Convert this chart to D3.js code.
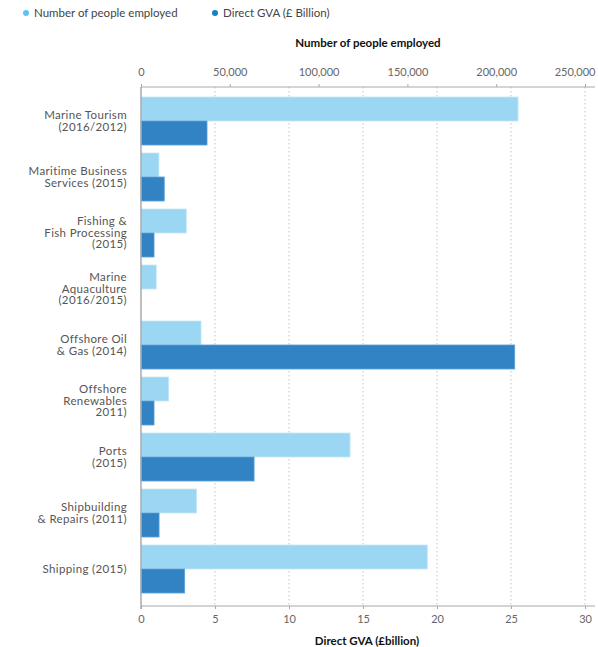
<!DOCTYPE html>
<html>
<head>
<meta charset="utf-8">
<script src="https://cdn.jsdelivr.net/npm/d3@7"></script>
<style>
	body { margin: 0; background: #fff; }
	text { font-family: Lato, "Open Sans", sans-serif; }
</style>
</head>
<body>
<div id="chart"></div>
<script>
//////////////////////////// data /////////////////////////////////////////

const sectors = [
	"Marine Tourism (2016/2012)",
	"Maritime Business Services (2015)",
	"Fishing & Fish Processing (2015)",
	"Marine Aquaculture (2016/2015)",
	"Offshore Oil & Gas (2014)",
	"Offshore Renewables 2011)",
	"Ports (2015)",
	"Shipbuilding & Repairs (2011)",
	"Shipping (2015)"
];

// how each label wraps in the reference
const labelLines = [
	["Marine Tourism", "(2016/2012)"],
	["Maritime Business", "Services (2015)"],
	["Fishing &", "Fish Processing", "(2015)"],
	["Marine", "Aquaculture", "(2016/2015)"],
	["Offshore Oil", "& Gas (2014)"],
	["Offshore", "Renewables", "2011)"],
	["Ports", "(2015)"],
	["Shipbuilding", "& Repairs (2011)"],
	["Shipping (2015)"]
];

const employed = [212300, 10100, 25500, 8600, 33800, 15600, 117700, 31300, 161200];
const gva = [4.46, 1.57, 0.88, 0, 25.25, 0.88, 7.64, 1.22, 2.95];

const employedTicks = [0, 50000, 100000, 150000, 200000, 250000];
const gvaTicks = [0, 5, 10, 15, 20, 25, 30];

const series = ["employed", "gva"];
const seriesNames = ["Number of people employed", "Direct GVA (£ Billion)"];

//////////////////////////// set up ///////////////////////////////////////

const width = 598;
const height = 647;
const colors = { employed: "#9bd6f3", gva: "#3283c4" };
const strokes = { employed: "#c4e8f9", gva: "#5c9fd4" };

const svg = d3.select("#chart").append("svg")
	.attr("width", width)
	.attr("height", height);

//////////////////////////// scales ///////////////////////////////////////

const xEmp = d3.scaleLinear().domain([0, 250000]).range([141, 585]);
const xGva = d3.scaleLinear().domain([0, 30]).range([141, 585]);

const yScale = d3.scaleBand()
	.domain(sectors)
	.range([93, 597])
	.paddingInner(0.143)
	.paddingOuter(0.0715);

const ySub = d3.scaleBand()
	.domain(series)
	.range([0, yScale.bandwidth()]);

const rows = sectors.map((s, i) => ({
	sector: s,
	lines: labelLines[i],
	employed: employed[i],
	gva: gva[i]
}));

const axisTop = 87;
const axisBottom = 606;

//////////////////////////// grid /////////////////////////////////////////

svg.append("g")
	.selectAll("line")
	.data(gvaTicks.slice(1))
	.join("line")
	.attr("x1", (d) => xGva(d))
	.attr("x2", (d) => xGva(d))
	.attr("y1", axisTop)
	.attr("y2", axisBottom)
	.attr("stroke", "#c4c4c4")
	.attr("stroke-width", 1)
	.attr("stroke-dasharray", "1.5,2.5");

//////////////////////////// bars /////////////////////////////////////////

const groups = svg.append("g")
	.selectAll("g")
	.data(rows)
	.join("g")
	.attr("transform", (d) => `translate(0,${yScale(d.sector)})`);

groups.append("rect")
	.attr("x", xEmp(0))
	.attr("y", ySub("employed"))
	.attr("width", (d) => xEmp(d.employed) - xEmp(0))
	.attr("height", ySub.bandwidth())
	.attr("fill", colors.employed)
	.attr("stroke", strokes.employed)
	.attr("stroke-width", 0.8);

groups.filter((d) => d.gva > 0)
	.append("rect")
	.attr("x", xGva(0))
	.attr("y", ySub("gva"))
	.attr("width", (d) => xGva(d.gva) - xGva(0))
	.attr("height", ySub.bandwidth())
	.attr("fill", colors.gva)
	.attr("stroke", strokes.gva)
	.attr("stroke-width", 0.8);

//////////////////////////// category labels //////////////////////////////

const labels = groups.append("text")
	.attr("text-anchor", "end")
	.attr("font-size", 11.5)
	.attr("letter-spacing", 0.35)
	.attr("fill", "#555");

labels.selectAll("tspan")
	.data((d) => d.lines.map((l, i) => ({ l, i, n: d.lines.length })))
	.join("tspan")
	.attr("x", 127)
	.attr("y", (d) => yScale.bandwidth() / 2 + (d.i - (d.n - 1) / 2) * 11.5 + 4)
	.text((d) => d.l);

//////////////////////////// axes /////////////////////////////////////////

const topAxis = svg.append("g")
	.attr("transform", `translate(0,${axisTop})`)
	.call(d3.axisTop(xEmp)
		.tickValues(employedTicks)
		.tickSize(3)
		.tickPadding(8)
		.tickFormat(d3.format(",")));

const bottomAxis = svg.append("g")
	.attr("transform", `translate(0,${axisBottom})`)
	.call(d3.axisBottom(xGva)
		.tickValues(gvaTicks)
		.tickSize(3)
		.tickPadding(6));

[topAxis, bottomAxis].forEach((ax) => {
	ax.select(".domain").remove();
	ax.selectAll(".tick line").attr("stroke", "#aaa");
	ax.selectAll(".tick text")
		.attr("fill", "#666")
		.attr("font-size", 11)
		.style("font-family", "Lato, sans-serif");
	ax.append("line")
		.attr("x1", 141)
		.attr("x2", 595)
		.attr("stroke", "#aaa")
		.attr("stroke-width", 1.2);
});

// last top label sits pulled in so it stays inside the frame
topAxis.selectAll(".tick text")
	.filter((d) => d === 250000)
	.attr("text-anchor", "end")
	.attr("x", 10);

// left axis line
svg.append("line")
	.attr("x1", 141)
	.attr("x2", 141)
	.attr("y1", axisTop)
	.attr("y2", axisBottom + 3)
	.attr("stroke", "#aaa")
	.attr("stroke-width", 1.5);

//////////////////////////// titles ///////////////////////////////////////

svg.append("text")
	.attr("x", 368)
	.attr("y", 47)
	.attr("text-anchor", "middle")
	.attr("font-size", 11.5)
	.attr("font-weight", "bold")
	.attr("fill", "#111")
	.text("Number of people employed");

svg.append("text")
	.attr("x", 367)
	.attr("y", 645)
	.attr("text-anchor", "middle")
	.attr("font-size", 11.5)
	.attr("font-weight", "bold")
	.attr("fill", "#111")
	.text("Direct GVA (£billion)");

//////////////////////////// legend ///////////////////////////////////////

const legend = svg.append("g")
	.selectAll("g")
	.data(series)
	.join("g")
	.attr("transform", (d, i) => `translate(${[26, 215][i]},13)`);

legend.append("circle")
	.attr("r", 3)
	.attr("fill", (d) => (d === "employed" ? "#5cc3f0" : "#1a7fc4"));

legend.append("text")
	.attr("x", 8)
	.attr("y", 4)
	.attr("font-size", 11.5)
	.attr("fill", "#444")
	.text((d, i) => seriesNames[i]);
</script>
</body>
</html>
